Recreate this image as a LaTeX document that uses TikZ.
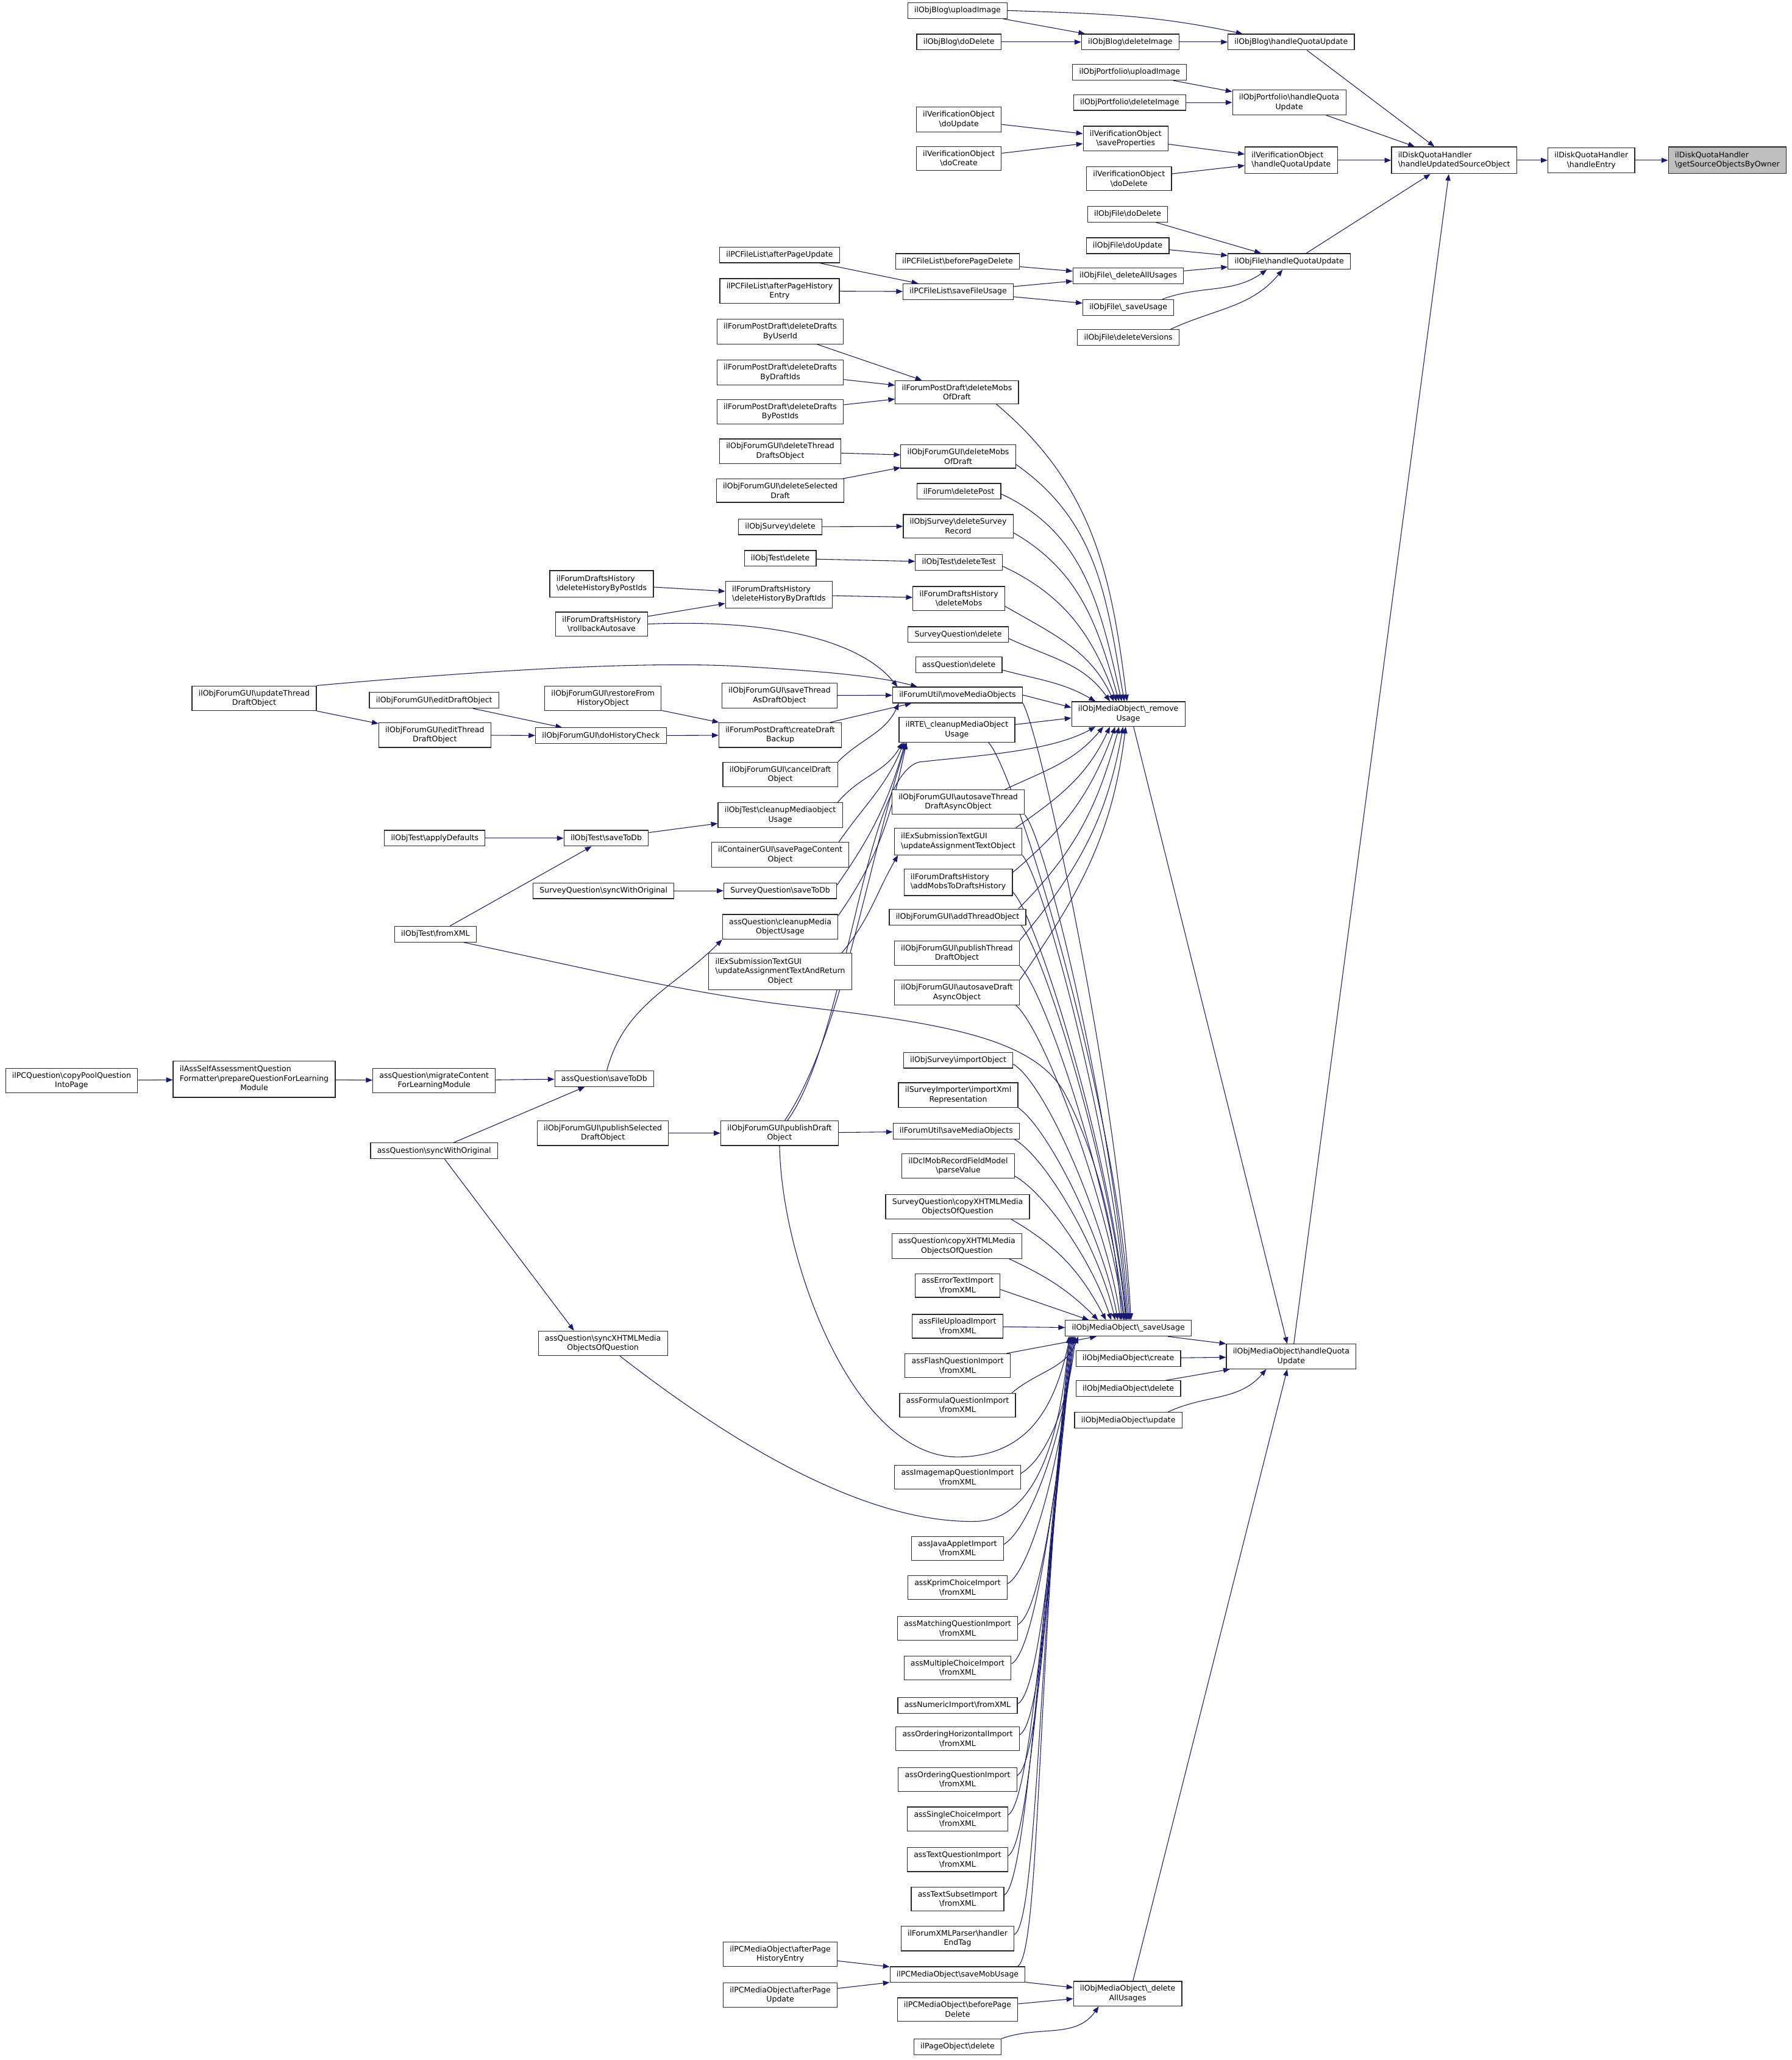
\documentclass[tikz,border=0pt]{standalone}
\usepackage{fontspec}
\setmainfont{DejaVu Sans}
\usetikzlibrary{arrows.meta, backgrounds}
\definecolor{edgeblue}  {RGB}{ 25,  25, 112}
\definecolor{rootgrey}  {RGB}{191, 191, 191}
\definecolor{boxline}   {RGB}{ 40,  40,  40}
\newcommand{\bsl}{\textbackslash}
\newcommand{\lpair}[2]{\begin{tabular}{@{}l@{}}#1\\#2\end{tabular}}
\newcommand{\ltrio}[3]{\begin{tabular}{@{}l@{}}#1\\#2\\\multicolumn{1}{@{}c@{}}{#3}\end{tabular}}

\begin{document}
\begin{tikzpicture}[x=1pt,y=1pt,
	fn/.style={draw=boxline, fill=white, line width=0.55pt, align=center,
		inner xsep=5pt, inner ysep=3pt, minimum height=12pt,
		font=\fontsize{5.8}{7.2}\selectfont},
	root/.style={fn, fill=rootgrey},
	calls/.style={draw=edgeblue, line width=0.5pt, -{Triangle[length=5pt,width=3.8pt]}},
	highfan/.style={out distance=28pt, in looseness=0.9},
	lowfan/.style={out=30, in=-96, out distance=20pt, in looseness=1.3}]
	\useasboundingbox (0,0) rectangle (1364,-1568);

	% disk quota
	\node[root] (gso) at (1315,-122) {\lpair{ilDiskQuotaHandler}{\bsl getSourceObjectsByOwner}};
	\node[fn] (he) at (1211.5,-122) {ilDiskQuotaHandler\\\bsl handleEntry};
	\node[fn] (hus) at (1107,-122) {\lpair{ilDiskQuotaHandler}{\bsl handleUpdatedSourceObject}};

	\node[fn] (blogUpload) at (729,-8) {ilObjBlog\bsl uploadImage};
	\node[fn] (blogDoDelete) at (730,-32) {ilObjBlog\bsl doDelete};
	\node[fn] (blogDelImg) at (860.5,-32) {ilObjBlog\bsl deleteImage};
	\node[fn] (blogHQU) at (983,-32) {ilObjBlog\bsl handleQuotaUpdate};
	\node[fn] (pfUpload) at (860,-55) {ilObjPortfolio\bsl uploadImage};
	\node[fn] (pfDelImg) at (860,-78) {ilObjPortfolio\bsl deleteImage};
	\node[fn] (pfHQU) at (981.5,-78) {ilObjPortfolio\bsl handleQuota\\Update};
	\node[fn] (voUpdate) at (730,-91) {ilVerificationObject\\\bsl doUpdate};
	\node[fn] (voCreate) at (730,-120.5) {ilVerificationObject\\\bsl doCreate};
	\node[fn] (voSave) at (857,-105.5) {ilVerificationObject\\\bsl saveProperties};
	\node[fn] (voDelete) at (859.5,-136) {ilVerificationObject\\\bsl doDelete};
	\node[fn] (voHQU) at (983,-122) {\lpair{ilVerificationObject}{\bsl handleQuotaUpdate}};
	\node[fn] (fileDoDelete) at (858.5,-163) {ilObjFile\bsl doDelete};
	\node[fn] (fileDoUpdate) at (858.5,-187) {ilObjFile\bsl doUpdate};
	\node[fn] (fileHQU) at (981.5,-199) {ilObjFile\bsl handleQuotaUpdate};
	\node[fn] (fileDelAll) at (859,-210) {ilObjFile\bsl\_deleteAllUsages};
	\node[fn] (fileSave) at (859,-234) {ilObjFile\bsl\_saveUsage};
	\node[fn] (fileDelVer) at (859,-257) {ilObjFile\bsl deleteVersions};
	\node[fn] (pcflBefore) at (729,-199) {ilPCFileList\bsl beforePageDelete};
	\node[fn] (pcflSave) at (729.5,-222) {ilPCFileList\bsl saveFileUsage};
	\node[fn] (pcflAfterUpd) at (593.5,-194) {ilPCFileList\bsl afterPageUpdate};
	\node[fn] (pcflAfterHist) at (593.5,-221.5) {ilPCFileList\bsl afterPageHistory\\Entry};

	% forum, survey, test callers of _removeUsage
	\node[fn] (fpdByUser) at (594,-252.5) {ilForumPostDraft\bsl deleteDrafts\\ByUserId};
	\node[fn] (fpdByDraft) at (594,-283.5) {ilForumPostDraft\bsl deleteDrafts\\ByDraftIds};
	\node[fn] (fpdByPost) at (594,-313.5) {ilForumPostDraft\bsl deleteDrafts\\ByPostIds};
	\node[fn] (fpdMobs) at (728.5,-298.5) {ilForumPostDraft\bsl deleteMobs\\OfDraft};
	\node[fn] (fguiDelThread) at (594,-343.5) {ilObjForumGUI\bsl deleteThread\\DraftsObject};
	\node[fn] (fguiDelSel) at (594,-373.5) {ilObjForumGUI\bsl deleteSelected\\Draft};
	\node[fn] (fguiMobs) at (729.5,-347.5) {ilObjForumGUI\bsl deleteMobs\\OfDraft};
	\node[fn] (forumDelPost) at (730,-374) {ilForum\bsl deletePost};
	\node[fn] (svDelete) at (594,-401) {ilObjSurvey\bsl delete};
	\node[fn] (svDelRec) at (729.5,-400.5) {ilObjSurvey\bsl deleteSurvey\\Record};
	\node[fn] (testDelete) at (594,-425) {ilObjTest\bsl delete};
	\node[fn] (testDelTest) at (730,-428) {ilObjTest\bsl deleteTest};
	\node[fn] (fdhByPost) at (458,-444.5) {\lpair{ilForumDraftsHistory}{\bsl deleteHistoryByPostIds}};
	\node[fn] (fdhByDraft) at (593,-452.5) {\lpair{ilForumDraftsHistory}{\bsl deleteHistoryByDraftIds}};
	\node[fn] (fdhMobs) at (730,-455.5) {ilForumDraftsHistory\\\bsl deleteMobs};
	\node[fn] (fdhRollback) at (458,-475) {ilForumDraftsHistory\\\bsl rollbackAutosave};
	\node[fn] (sqDelete) at (729.5,-483) {SurveyQuestion\bsl delete};
	\node[fn] (aqDelete) at (730,-506) {assQuestion\bsl delete};

	\node[fn] (fguiUpdThread) at (193.5,-531.5) {ilObjForumGUI\bsl updateThread\\DraftObject};
	\node[fn] (fguiEditDraft) at (330.5,-533) {ilObjForumGUI\bsl editDraftObject};
	\node[fn] (fguiRestore) at (459,-531.5) {ilObjForumGUI\bsl restoreFrom\\HistoryObject};
	\node[fn] (fguiSaveThread) at (593.5,-529.5) {ilObjForumGUI\bsl saveThread\\AsDraftObject};
	\node[fn] (fuMove) at (729,-529) {ilForumUtil\bsl moveMediaObjects};
	\node[fn] (rem) at (859,-543.5) {ilObjMediaObject\bsl\_remove\\Usage};
	\node[fn] (fguiEditThread) at (331,-559.5) {ilObjForumGUI\bsl editThread\\DraftObject};
	\node[fn] (fguiHist) at (457.5,-560) {ilObjForumGUI\bsl doHistoryCheck};
	\node[fn] (fpdBackup) at (594,-559.5) {ilForumPostDraft\bsl createDraft\\Backup};
	\node[fn] (rte) at (728.5,-555.5) {ilRTE\bsl\_cleanupMediaObject\\Usage};
	\node[fn] (fguiCancel) at (594,-589.5) {ilObjForumGUI\bsl cancelDraft\\Object};
	\node[fn] (fguiAutoThread) at (729.5,-610.5) {ilObjForumGUI\bsl autosaveThread\\DraftAsyncObject};
	\node[fn] (testCleanup) at (594,-620.5) {ilObjTest\bsl cleanupMediaobject\\Usage};
	\node[fn] (testDefaults) at (331,-638) {ilObjTest\bsl applyDefaults};
	\node[fn] (testSave) at (461.5,-638) {ilObjTest\bsl saveToDb};
	\node[fn] (exsUpdText) at (729.5,-640.5) {\lpair{ilExSubmissionTextGUI}{\bsl updateAssignmentTextObject}};
	\node[fn] (contSave) at (594,-650.5) {ilContainerGUI\bsl savePageContent\\Object};
	\node[fn] (fdhAddMobs) at (729.5,-671.5) {\lpair{ilForumDraftsHistory}{\bsl addMobsToDraftsHistory}};
	\node[fn] (sqSync) at (459.5,-678) {SurveyQuestion\bsl syncWithOriginal};
	\node[fn] (sqSave) at (594,-678) {SurveyQuestion\bsl saveToDb};
	\node[fn] (fguiAddThread) at (729,-698) {ilObjForumGUI\bsl addThreadObject};
	\node[fn] (aqCleanup) at (594,-705.5) {assQuestion\bsl cleanupMedia\\ObjectUsage};
	\node[fn] (testFromXML) at (331.5,-711) {ilObjTest\bsl fromXML};
	\node[fn] (fguiPubThread) at (728.5,-725.5) {ilObjForumGUI\bsl publishThread\\DraftObject};
	\node[fn] (exsUpdReturn) at (594,-739.5) {\ltrio{ilExSubmissionTextGUI}{\bsl updateAssignmentTextAndReturn}{Object}};
	\node[fn] (fguiAutoDraft) at (728.5,-755.5) {ilObjForumGUI\bsl autosaveDraft\\AsyncObject};

	% callers of _saveUsage
	\node[fn] (svImport) at (729.5,-807) {ilObjSurvey\bsl importObject};
	\node[fn] (svImporter) at (729.5,-833.5) {ilSurveyImporter\bsl importXml\\Representation};
	\node[fn] (pcqCopy) at (54.5,-822.5) {ilPCQuestion\bsl copyPoolQuestion\\IntoPage};
	\node[fn] (assFormatter) at (193.5,-821.5) {\ltrio{ilAssSelfAssessmentQuestion}{Formatter\bsl prepareQuestionForLearning}{Module}};
	\node[fn] (aqMigrate) at (330.5,-822.5) {assQuestion\bsl migrateContent\\ForLearningModule};
	\node[fn] (aqSave) at (460,-821) {assQuestion\bsl saveToDb};
	\node[fn] (fguiPubSel) at (459,-862.5) {ilObjForumGUI\bsl publishSelected\\DraftObject};
	\node[fn] (fguiPubDraft) at (593.5,-862.5) {ilObjForumGUI\bsl publishDraft\\Object};
	\node[fn] (fuSave) at (728,-861) {ilForumUtil\bsl saveMediaObjects};
	\node[fn] (aqSync) at (330.5,-876) {assQuestion\bsl syncWithOriginal};
	\node[fn] (dcl) at (729.5,-887.5) {ilDclMobRecordFieldModel\\\bsl parseValue};
	\node[fn] (sqCopy) at (729,-918.5) {SurveyQuestion\bsl copyXHTMLMedia\\ObjectsOfQuestion};
	\node[fn] (aqCopy) at (728.5,-948.5) {assQuestion\bsl copyXHTMLMedia\\ObjectsOfQuestion};
	\node[fn] (impErrorText) at (729,-978.5) {assErrorTextImport\\\bsl fromXML};
	\node[fn] (sav) at (859,-1011) {ilObjMediaObject\bsl\_saveUsage};
	\node[fn] (impFileUpload) at (729,-1009.5) {assFileUploadImport\\\bsl fromXML};
	\node[fn] (aqSyncXHTML) at (459,-1022.5) {assQuestion\bsl syncXHTMLMedia\\ObjectsOfQuestion};
	\node[fn] (mhq) at (983,-1032.5) {ilObjMediaObject\bsl handleQuota\\Update};
	\node[fn] (mobCreate) at (859,-1034) {ilObjMediaObject\bsl create};
	\node[fn] (impFlash) at (729,-1039.5) {assFlashQuestionImport\\\bsl fromXML};
	\node[fn] (mobDelete) at (859,-1057) {ilObjMediaObject\bsl delete};
	\node[fn] (impFormula) at (729,-1069.5) {assFormulaQuestionImport\\\bsl fromXML};
	\node[fn] (mobUpdate) at (859,-1081) {ilObjMediaObject\bsl update};
	\node[fn] (impImagemap) at (729,-1124.5) {assImagemapQuestionImport\\\bsl fromXML};
	\node[fn] (impJava) at (729,-1178.5) {assJavaAppletImport\\\bsl fromXML};
	\node[fn] (impKprim) at (729,-1208.5) {assKprimChoiceImport\\\bsl fromXML};
	\node[fn] (impMatching) at (729,-1239.5) {assMatchingQuestionImport\\\bsl fromXML};
	\node[fn] (impMC) at (729,-1269.5) {assMultipleChoiceImport\\\bsl fromXML};
	\node[fn] (impNumeric) at (729,-1298) {assNumericImport\bsl fromXML};
	\node[fn] (impOrdHor) at (729,-1323.5) {assOrderingHorizontalImport\\\bsl fromXML};
	\node[fn] (impOrdQ) at (729,-1354.5) {assOrderingQuestionImport\\\bsl fromXML};
	\node[fn] (impSC) at (729,-1384.5) {assSingleChoiceImport\\\bsl fromXML};
	\node[fn] (impTextQ) at (729,-1415.5) {assTextQuestionImport\\\bsl fromXML};
	\node[fn] (impTextSub) at (729,-1445.5) {assTextSubsetImport\\\bsl fromXML};
	\node[fn] (forumXML) at (729,-1475.5) {ilForumXMLParser\bsl handler\\EndTag};
	\node[fn] (pcmoAfterHist) at (594,-1487.5) {ilPCMediaObject\bsl afterPage\\HistoryEntry};
	\node[fn] (pcmoSave) at (729,-1503) {ilPCMediaObject\bsl saveMobUsage};
	\node[fn] (mobDelAll) at (858.5,-1517.5) {ilObjMediaObject\bsl\_delete\\AllUsages};
	\node[fn] (pcmoAfterUpd) at (594,-1518.5) {ilPCMediaObject\bsl afterPage\\Update};
	\node[fn] (pcmoBefore) at (729,-1529.5) {ilPCMediaObject\bsl beforePage\\Delete};
	\node[fn] (pageDelete) at (729,-1558) {ilPageObject\bsl delete};

	\begin{scope}[on background layer]
		\draw[calls] (hus) -- (he);
		\draw[calls] (he) -- (gso);
		\draw[calls] ([xshift=12pt]blogHQU.south) -- ([xshift=-15pt]hus.north);
		\draw[calls] ([xshift=28pt]pfHQU.south) -- ([xshift=-30pt]hus.north);
		\draw[calls] (voHQU) -- (hus);
		\draw[calls] ([xshift=13pt]fileHQU.north) -- ([xshift=-18pt]hus.south);
		\draw[calls] ([xshift=2pt]mhq.north) -- ([xshift=-4pt]hus.south);

		\draw[calls] (blogUpload) -- (blogDelImg);
		\draw[calls] (blogUpload.east) to[out=-2,in=168] ([xshift=-37pt]blogHQU.north);
		\draw[calls] (blogDoDelete) -- (blogDelImg);
		\draw[calls] (blogDelImg) -- (blogHQU);
		\draw[calls] (pfUpload) -- (pfHQU);
		\draw[calls] (pfDelImg) -- (pfHQU);
		\draw[calls] (voUpdate) -- (voSave);
		\draw[calls] (voCreate) -- (voSave);
		\draw[calls] (voSave) -- (voHQU);
		\draw[calls] (voDelete) -- (voHQU);
		\draw[calls] (fileDoDelete) -- (fileHQU);
		\draw[calls] (fileDoUpdate) -- (fileHQU);
		\draw[calls] (fileDelAll) -- (fileHQU);
		\draw[calls] ([xshift=-9pt]fileSave.north east) to[out=20,in=-145] ([xshift=-17pt]fileHQU.south);
		\draw[calls] ([xshift=-7pt]fileDelVer.north east) to[out=25,in=-130] ([xshift=-5pt]fileHQU.south);
		\draw[calls] (pcflBefore) -- (fileDelAll);
		\draw[calls] (pcflSave) -- (fileDelAll);
		\draw[calls] (pcflSave) -- (fileSave);
		\draw[calls] (pcflAfterUpd) -- (pcflSave);
		\draw[calls] (pcflAfterHist) -- (pcflSave);

		\draw[calls] (fpdByUser) -- (fpdMobs);
		\draw[calls] (fpdByDraft) -- (fpdMobs);
		\draw[calls] (fpdByPost) -- (fpdMobs);
		\draw[calls] (fguiDelThread) -- (fguiMobs);
		\draw[calls] (fguiDelSel) -- (fguiMobs);
		\draw[calls] (svDelete) -- (svDelRec);
		\draw[calls] (testDelete) -- (testDelTest);
		\draw[calls] (fdhByPost) -- (fdhByDraft);
		\draw[calls] (fdhRollback) -- (fdhByDraft);
		\draw[calls] (fdhByDraft) -- (fdhMobs);

		% into _removeUsage
		\draw[calls] ([xshift=30pt]fpdMobs.south) to[out=-40,in=97] ([xshift=-1pt]rem.north);
		\draw[calls] ([yshift=-6pt]fguiMobs.east) to[out=-35,in=100] ([xshift=-3pt]rem.north);
		\draw[calls] ([yshift=-2pt]forumDelPost.east) to[out=-25,in=103] ([xshift=-5pt]rem.north);
		\draw[calls] ([yshift=-5pt]svDelRec.east) to[out=-30,in=106] ([xshift=-7pt]rem.north);
		\draw[calls] ([yshift=-3pt]testDelTest.east) to[out=-25,in=110] ([xshift=-9pt]rem.north);
		\draw[calls] ([yshift=-6pt]fdhMobs.east) to[out=-30,in=115] ([xshift=-11pt]rem.north);
		\draw[calls] ([yshift=-3pt]sqDelete.east) to[out=-25,in=125] ([xshift=-14pt]rem.north);
		\draw[calls] ([yshift=-4pt]aqDelete.east) to[out=-15,in=150] ([xshift=-25pt]rem.north);
		\draw[calls] (fuMove.east) -- ([yshift=5pt]rem.west);
		\draw[calls] ([yshift=4pt]rte.east) -- ([yshift=-3pt]rem.west);
		\draw[calls] ([xshift=-15pt]fguiAutoThread.north east) to[out=25,in=-130] ([xshift=-19pt]rem.south);
		\draw[calls] ([xshift=-5pt]exsUpdText.north east) to[out=35,in=-115] ([xshift=-14pt]rem.south);
		\draw[calls] ([yshift=-3pt]fdhAddMobs.north east) to[out=40,in=-110] ([xshift=-10pt]rem.south);
		\draw[calls] ([xshift=-6pt]fguiAddThread.north east) to[out=45,in=-105] ([xshift=-7pt]rem.south);
		\draw[calls] (fguiPubThread.north east) to[out=50,in=-100] ([xshift=-4pt]rem.south);
		\draw[calls] (fguiAutoDraft.north east) to[out=55,in=-97] ([xshift=-2pt]rem.south);
		\draw[calls] ([xshift=6pt]fguiPubDraft.north) .. controls (645,-790) and (658,-590) .. (700,-580)
			.. controls (745,-575) and (800,-572) .. ([xshift=-25pt]rem.south);

		% forum drafts
		\draw[calls] (fguiUpdThread) -- (fguiEditThread);
		\draw[calls] (fguiUpdThread.north east) .. controls (350,-512) and (480,-503) .. (560,-507)
			.. controls (630,-511) and (670,-515) .. ([xshift=19pt]fuMove.north west);
		\draw[calls] (fdhRollback.east) .. controls (590,-471) and (655,-488) .. ([xshift=4pt]fuMove.north west);
		\draw[calls] (fguiSaveThread) -- (fuMove);
		\draw[calls] ([xshift=38pt]fpdBackup.north) -- ([xshift=-35pt]fuMove.south);
		\draw[calls] (fguiCancel.north east) to[out=45,in=-115] ([xshift=5pt]fuMove.south west);
		\draw[calls] (fguiEditDraft) -- (fguiHist);
		\draw[calls] (fguiEditThread) -- (fguiHist);
		\draw[calls] (fguiHist) -- (fpdBackup);
		\draw[calls] (fguiRestore) -- (fpdBackup);

		% into ilRTE
		\draw[calls] ([xshift=-4pt]testCleanup.north east) to[out=50,in=-120] ([xshift=3pt]rte.south west);
		\draw[calls] ([xshift=-8pt]contSave.north east) to[out=55,in=-112] ([xshift=4pt]rte.south west);
		\draw[calls] ([yshift=-2pt]sqSave.north east) to[out=55,in=-106] ([xshift=5pt]rte.south west);
		\draw[calls] ([yshift=-1pt]aqCleanup.north east) to[out=55,in=-102] ([xshift=6pt]rte.south west);
		\draw[calls] ([xshift=4pt]fguiPubDraft.north) .. controls (640,-790) and (660,-660) .. ([xshift=6pt]rte.south west);

		\draw[calls] (testDefaults) -- (testSave);
		\draw[calls] (testFromXML) -- (testSave);
		\draw[calls] (testSave) -- (testCleanup);
		\draw[calls] (sqSync) -- (sqSave);
		\draw[calls] ([xshift=-8pt]exsUpdReturn.north east) to[out=50,in=-120] ([xshift=3pt]exsUpdText.south west);

		\draw[calls] (pcqCopy) -- (assFormatter);
		\draw[calls] (assFormatter) -- (aqMigrate);
		\draw[calls] (aqMigrate) -- (aqSave);
		\draw[calls] (aqSync) -- (aqSave);
		\draw[calls] ([xshift=2pt]aqSave.north) to[out=75,in=-135] (aqCleanup.south west);
		\draw[calls] ([xshift=8pt]aqSync.south) -- ([xshift=-22pt]aqSyncXHTML.north);
		\draw[calls] (fguiPubSel) -- (fguiPubDraft);
		\draw[calls] (fguiPubDraft) -- (fuSave);

		% into _saveUsage from above
		\draw[calls,highfan] (fuMove.south east) to[out=-60,in=93] ([xshift=2pt]sav.north);
		\draw[calls,highfan] ([xshift=24pt]rte.south) to[out=-45,in=93] ([xshift=1pt]sav.north);
		\draw[calls,highfan] (fguiAutoThread.south east) to[out=-50,in=94] (sav.north);
		\draw[calls,highfan] (exsUpdText.south east) to[out=-50,in=94] ([xshift=-1pt]sav.north);
		\draw[calls,highfan] ([yshift=3pt]fdhAddMobs.south east) to[out=-45,in=95] ([xshift=-1.5pt]sav.north);
		\draw[calls,highfan] ([xshift=-4pt]fguiAddThread.south east) to[out=-50,in=95] ([xshift=-2pt]sav.north);
		\draw[calls,highfan] (fguiPubThread.south east) to[out=-45,in=96] ([xshift=-3pt]sav.north);
		\draw[calls,highfan] ([xshift=-3pt]fguiAutoDraft.south east) to[out=-40,in=97] ([xshift=-3.5pt]sav.north);
		\draw[calls] ([xshift=-10pt]testFromXML.south east) .. controls (450,-738) and (520,-755) .. (600,-765)
			.. controls (720,-779) and (790,-790) .. (812,-835)
			.. controls (840,-890) and (850,-950) .. ([xshift=-5pt]sav.north);
		\draw[calls,highfan] ([yshift=-3pt]svImport.east) to[out=-30,in=98] ([xshift=-6pt]sav.north);
		\draw[calls,highfan] (svImporter.south east) to[out=-35,in=100] ([xshift=-8pt]sav.north);
		\draw[calls,highfan] ([xshift=-4pt]fuSave.south east) to[out=-30,in=103] ([xshift=-10pt]sav.north);
		\draw[calls,highfan] ([yshift=2pt]dcl.south east) to[out=-30,in=108] ([xshift=-13pt]sav.north);
		\draw[calls] ([xshift=-14pt]sqCopy.south east) to[out=-30,in=118] ([xshift=-17pt]sav.north);
		\draw[calls] ([xshift=-10pt]aqCopy.south east) to[out=-25,in=135] ([xshift=-23pt]sav.north);
		\draw[calls] ([yshift=-3pt]impErrorText.east) -- ([xshift=-30pt]sav.north);

		% into _saveUsage from below
		\draw[calls] (impFileUpload) -- (sav);
		\draw[calls] ([xshift=-3pt]impFlash.north east) -- ([xshift=24pt]sav.south west);
		\draw[calls] ([xshift=-3pt]impFormula.north east) to[out=40,in=-110] ([xshift=10pt]sav.south west);
		\draw[calls] ([yshift=3pt]impImagemap.east) to[lowfan] ([xshift=8pt]sav.south west);
		\draw[calls] ([yshift=3pt]impJava.east) to[lowfan] ([xshift=7pt]sav.south west);
		\draw[calls] ([yshift=3pt]impKprim.east) to[lowfan] ([xshift=7pt]sav.south west);
		\draw[calls] ([yshift=3pt]impMatching.east) to[lowfan] ([xshift=6pt]sav.south west);
		\draw[calls] ([yshift=3pt]impMC.east) to[lowfan] ([xshift=6pt]sav.south west);
		\draw[calls] ([yshift=1pt]impNumeric.east) to[lowfan] ([xshift=6pt]sav.south west);
		\draw[calls] ([yshift=3pt]impOrdHor.east) to[lowfan] ([xshift=5pt]sav.south west);
		\draw[calls] ([yshift=3pt]impOrdQ.east) to[lowfan] ([xshift=5pt]sav.south west);
		\draw[calls] ([yshift=3pt]impSC.east) to[lowfan] ([xshift=5pt]sav.south west);
		\draw[calls] ([yshift=3pt]impTextQ.east) to[lowfan] ([xshift=5pt]sav.south west);
		\draw[calls] ([yshift=3pt]impTextSub.east) to[lowfan] ([xshift=4pt]sav.south west);
		\draw[calls] ([yshift=3pt]forumXML.east) to[lowfan] ([xshift=4pt]sav.south west);
		\draw[calls] ([xshift=-6pt]pcmoSave.north east) to[lowfan] ([xshift=4pt]sav.south west);
		\draw[calls] (fguiPubDraft.south) .. controls (595,-960) and (650,-1110) .. (730,-1109)
			.. controls (790,-1108) and (805,-1060) .. ([xshift=4pt]sav.south west);
		\draw[calls] ([xshift=13pt]aqSyncXHTML.south) .. controls (540,-1085) and (650,-1160) .. (743,-1158)
			.. controls (790,-1157) and (808,-1090) .. ([xshift=3pt]sav.south west);

		% ilObjMediaObject quota
		\draw[calls] ([xshift=4pt]rem.south) -- ([xshift=-3pt]mhq.north);
		\draw[calls] ([xshift=-18pt]sav.south east) -- (mhq.north west);
		\draw[calls] (mobCreate) -- (mhq);
		\draw[calls] ([xshift=-12pt]mobDelete.north east) -- ([xshift=3pt]mhq.south west);
		\draw[calls] ([xshift=-11pt]mobUpdate.north east) to[out=25,in=-130] ([xshift=-19pt]mhq.south);
		\draw[calls] ([xshift=4pt]mobDelAll.north) -- ([xshift=-3pt]mhq.south);

		\draw[calls] (pcmoAfterHist) -- (pcmoSave);
		\draw[calls] (pcmoAfterUpd) -- (pcmoSave);
		\draw[calls] (pcmoSave) -- (mobDelAll);
		\draw[calls] (pcmoBefore) -- (mobDelAll);
		\draw[calls] (pageDelete.north east) to[out=20,in=-125] ([xshift=-22pt]mobDelAll.south);
	\end{scope}
\end{tikzpicture}
\end{document}
